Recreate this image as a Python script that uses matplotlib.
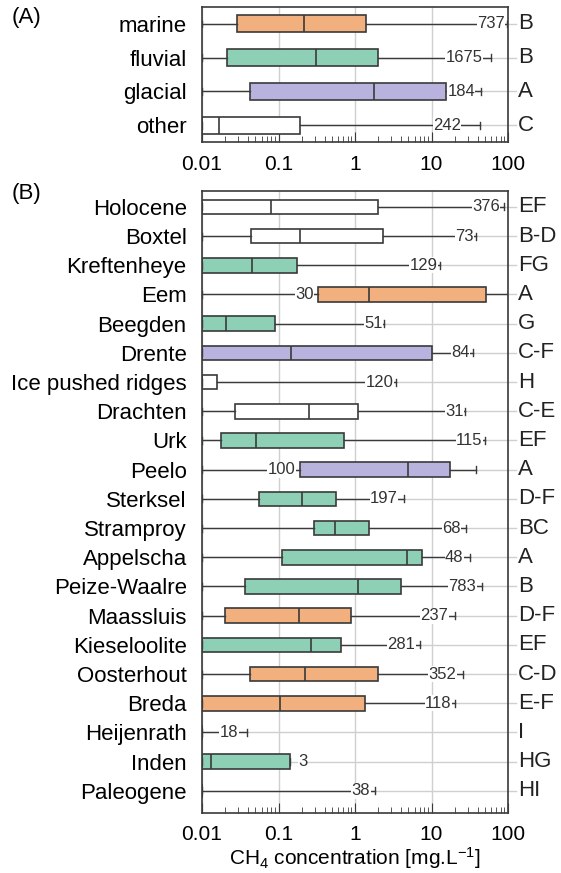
import numpy as np
import matplotlib.pyplot as plt
from matplotlib.ticker import LogLocator, NullFormatter
from matplotlib.transforms import blended_transform_factory

plt.rcParams['font.family'] = ['Liberation Sans', 'DejaVu Sans']
plt.rcParams['mathtext.default'] = 'regular'

# panel A: depositional environment
names_A = ['marine', 'fluvial', 'glacial', 'other']
q1_A = [0.0283, 0.0215, 0.042, 0.01]
med_A = [0.216, 0.311, 1.75, 0.0168]
q3_A = [1.38, 2.02, 15.4, 0.191]
hi_A = [96, 59.6, 44.9, 43]
n_A = [737, 1675, 184, 242]
n_at_A = [60, 26.5, 24.5, 15.9]
letters_A = ['B', 'B', 'A', 'C']
group_A = ['marine', 'fluvial', 'glacial', 'other']

# panel B: formations
names_B = ['Holocene', 'Boxtel', 'Kreftenheye', 'Eem', 'Beegden', 'Drente',
           'Ice pushed ridges', 'Drachten', 'Urk', 'Peelo', 'Sterksel',
           'Stramproy', 'Appelscha', 'Peize-Waalre', 'Maassluis',
           'Kieseloolite', 'Oosterhout', 'Breda', 'Heijenrath', 'Inden',
           'Paleogene']
q1_B = [0.01, 0.0435, 0.01, 0.329, 0.01, 0.01, 0.01, 0.0267, 0.0179, 0.191,
        0.0552, 0.288, 0.111, 0.0362, 0.02, 0.01, 0.042, 0.01, 0.01, 0.01, 0.01]
med_B = [0.0805, 0.193, 0.0449, 1.54, 0.0204, 0.146, 0.01, 0.25, 0.0511, 4.95,
         0.202, 0.54, 4.79, 1.11, 0.183, 0.267, 0.22, 0.106, 0.01, 0.0133, 0.01]
q3_B = [2.02, 2.32, 0.174, 51.8, 0.0907, 10.2, 0.0159, 1.11, 0.723, 17.5,
        0.57, 1.54, 7.54, 3.94, 0.899, 0.662, 2.02, 1.34, 0.01, 0.143, 0.01]
hi_B = [88.7, 38.6, 13.0, 100, 2.43, 34.7, 3.46, 27.6, 50.0, 38.2,
        4.4, 27.9, 31.8, 46.4, 20.2, 7.16, 25.6, 20.2, 0.039, 0.143, 1.81]
n_B = [376, 73, 129, 30, 51, 84, 120, 31, 115, 100, 197, 68, 48, 783, 237,
       281, 352, 118, 18, 3, 38]
n_at_B = [52, 26.7, 7.9, 0.218, 1.73, 24, 2.1, 20.2, 31, 0.109, 2.4,
          18.3, 19.8, 25.4, 10.9, 4.03, 14, 12.2, 0.0225, 0.206, 1.2]
letters_B = ['EF', 'B-D', 'FG', 'A', 'G', 'C-F', 'H', 'C-E', 'EF', 'A', 'D-F',
             'BC', 'A', 'B', 'D-F', 'EF', 'C-D', 'E-F', 'I', 'HG', 'HI']
group_B = ['other', 'other', 'fluvial', 'marine', 'fluvial', 'glacial', 'other',
           'other', 'fluvial', 'glacial', 'fluvial', 'fluvial', 'fluvial',
           'fluvial', 'marine', 'fluvial', 'marine', 'marine', 'other',
           'fluvial', 'other']

colors = {'marine': '#f2b07e', 'fluvial': '#8dd0b6',
          'glacial': '#b7b3de', 'other': 'white'}
xmin = 0.01
edge = '#3a3a3a'
gridc = '#cfcfcf'


def panel(ax, names, q1, med, q3, hi, n, n_at, letters, groups, cap_w, ylim):
    stats = [dict(whislo=xmin, q1=a, med=m, q3=b, whishi=h, fliers=[])
             for a, m, b, h in zip(q1, med, q3, hi)]
    pos = np.arange(len(names))
    bp = ax.bxp(stats, positions=pos, widths=0.5, orientation='horizontal',
                patch_artist=True, showfliers=False, capwidths=cap_w,
                boxprops=dict(edgecolor=edge, linewidth=1.2),
                medianprops=dict(color=edge, linewidth=1.2),
                whiskerprops=dict(color=edge, linewidth=1.0),
                capprops=dict(color=edge, linewidth=1.0))
    for patch, g in zip(bp['boxes'], groups):
        patch.set_facecolor(colors[g])

    tr = blended_transform_factory(ax.transAxes, ax.transData)
    for i in pos:
        ax.plot([0, 1.025], [i, i], transform=tr, color=gridc, lw=1,
                zorder=0.5, clip_on=False)
        ax.text(n_at[i], i, str(n[i]), ha='center', va='center', fontsize=12,
                color='#333333', zorder=3,
                bbox=dict(fc='white', ec='none', pad=0.3))
        ax.text(1.033, i, letters[i], transform=tr, ha='left', va='center',
                fontsize=16, color='#222222')

    ax.set_xscale('log')
    ax.set_xlim(xmin, 100)
    ax.set_ylim(*ylim)
    ax.set_xticks([0.01, 0.1, 1, 10, 100])
    ax.set_xticklabels(['0.01', '0.1', '1', '10', '100'])
    ax.xaxis.set_minor_locator(LogLocator(base=10, subs=np.arange(2, 10)))
    ax.xaxis.set_minor_formatter(NullFormatter())
    ax.tick_params(axis='x', which='both', direction='in', labelsize=15,
                   pad=9, color=edge)
    ax.tick_params(axis='x', which='major', length=7)
    ax.tick_params(axis='x', which='minor', length=4)
    ax.set_yticks(pos)
    ax.set_yticklabels(names, fontsize=16)
    ax.tick_params(axis='y', length=0, pad=11)
    ax.grid(axis='x', which='major', color=gridc, lw=1)
    ax.set_axisbelow(True)
    for s in ax.spines.values():
        s.set_color(edge)
        s.set_linewidth(1.2)


fig = plt.figure(figsize=(5.61, 8.73), dpi=100)
axA = fig.add_axes([202 / 561, 1 - 142 / 873, 306 / 561, 135 / 873])
axB = fig.add_axes([202 / 561, 1 - 812.5 / 873, 306 / 561, 622 / 873])

panel(axA, names_A, q1_A, med_A, q3_A, hi_A, n_A, n_at_A, letters_A, group_A,
      0.2, (3.5, -0.5))
panel(axB, names_B, q1_B, med_B, q3_B, hi_B, n_B, n_at_B, letters_B, group_B,
      0.24, (20.74, -0.56))

axB.set_xlabel('CH$_4$ concentration [mg.L$^{-1}$]', fontsize=15, labelpad=1)

fig.text(12 / 561, 1 - 18 / 873, '(A)', fontsize=16, va='center')
fig.text(12 / 561, 1 - 193 / 873, '(B)', fontsize=16, va='center')

fig.savefig('out.png', dpi=100)
